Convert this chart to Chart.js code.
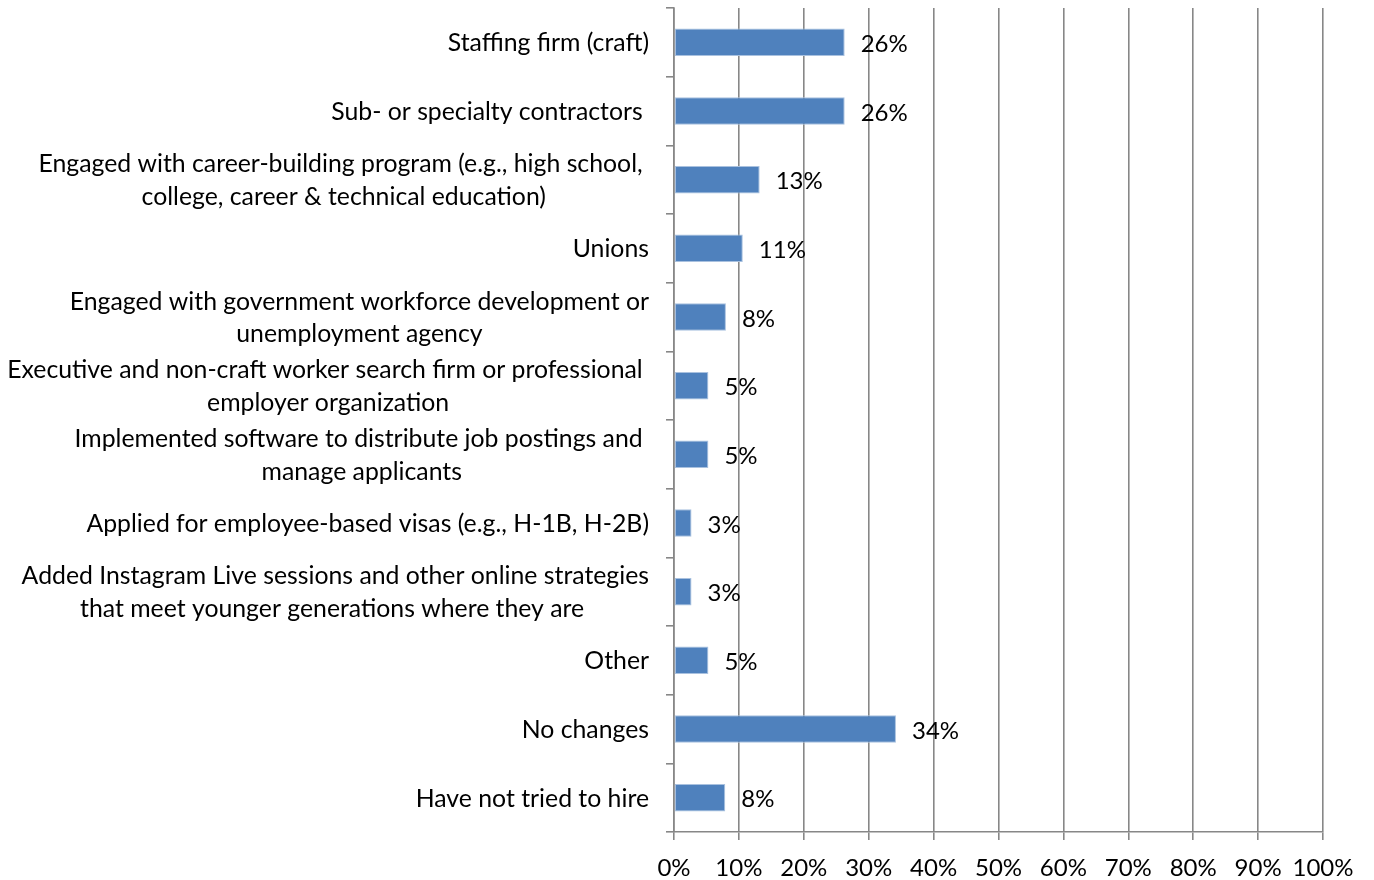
<!DOCTYPE html>
<html>
<head>
<meta charset="utf-8">
<script src="https://cdn.jsdelivr.net/npm/chart.js@4"></script>
<style>
html,body{margin:0;padding:0;background:#fff;}
#wrap{width:1374px;height:880px;position:relative;}
</style>
</head>
<body>
<div id="wrap"><canvas id="c" width="1374" height="880"></canvas></div>
<script>
const categories = [
  ["Staffing firm (craft)"],
  ["Sub- or specialty contractors "],
  ["Engaged with career-building program (e.g., high school, ", "college, career & technical education)"],
  ["Unions"],
  ["Engaged with government workforce development or", "unemployment agency"],
  ["Executive and non-craft worker search firm or professional ", "employer organization"],
  ["Implemented software to distribute job postings and ", "manage applicants"],
  ["Applied for employee-based visas (e.g., H-1B, H-2B)"],
  ["Added Instagram Live sessions and other online strategies", "that meet younger generations where they are "],
  ["Other"],
  ["No changes"],
  ["Have not tried to hire"]
];
const values = [26.3, 26.3, 13.2, 10.6, 8.0, 5.3, 5.3, 2.7, 2.7, 5.3, 34.2, 7.9];
const valueLabels = ["26%","26%","13%","11%","8%","5%","5%","3%","3%","5%","34%","8%"];
const xTicks = [0,10,20,30,40,50,60,70,80,90,100];

const FONT = "Lato";
const FS = 24.8;
const VFS = 24;
const GRID = "#878787";

const yLabelPlugin = {
  id: 'yLabels',
  afterDraw(chart) {
    const ctx = chart.ctx;
    const y = chart.scales.y;
    ctx.save();
    ctx.font = FS + "px " + FONT;
    ctx.fillStyle = "#000";
    ctx.textBaseline = "middle";
    ctx.textAlign = "center";
    const right = chart.chartArea.left - 25;
    const lh = 32.5;
    categories.forEach((lines, i) => {
      const cy = y.getPixelForTick(i) + 1;
      const w = Math.max(...lines.map(l => ctx.measureText(l).width));
      const cx = right - w / 2;
      const y0 = cy - (lines.length - 1) * lh / 2;
      lines.forEach((l, k) => ctx.fillText(l, cx, y0 + k * lh));
    });
    ctx.restore();
  }
};

const valueLabelPlugin = {
  id: 'valLabels',
  afterDatasetsDraw(chart) {
    const ctx = chart.ctx;
    const meta = chart.getDatasetMeta(0);
    ctx.save();
    ctx.font = VFS + "px " + FONT;
    ctx.fillStyle = "#000";
    ctx.textBaseline = "middle";
    ctx.textAlign = "left";
    meta.data.forEach((bar, i) => {
      ctx.fillText(valueLabels[i], bar.x + 16, bar.y + 2);
    });
    ctx.restore();
  }
};

new Chart(document.getElementById('c'), {
  type: 'bar',
  data: {
    labels: categories.map(c => c.join(' ')),
    datasets: [{
      data: values,
      backgroundColor: '#4F81BD',
      borderColor: '#A9C1DF',
      borderWidth: 1,
      borderSkipped: false,
      categoryPercentage: 1,
      barPercentage: 0.4
    }]
  },
  options: {
    indexAxis: 'y',
    responsive: false,
    animation: false,
    devicePixelRatio: 1,
    layout: { padding: { top: 8, right: 51, left: 0, bottom: 0 } },
    plugins: { legend: { display: false }, tooltip: { enabled: false } },
    scales: {
      x: {
        min: 0, max: 100,
        afterBuildTicks(scale) { scale.ticks = xTicks.map(v => ({ value: v })); },
        afterFit(scale) { scale.height = 48; },
        grid: { color: GRID, lineWidth: 1.6, tickLength: 8, drawTicks: true },
        border: { color: GRID, width: 1.6 },
        ticks: {
          callback: v => v + '%',
          font: { family: FONT, size: VFS },
          color: '#000',
          padding: 14,
          maxRotation: 0,
          autoSkip: false
        }
      },
      y: {
        afterFit(scale) { scale.width = 674; },
        grid: { drawOnChartArea: false, color: GRID, lineWidth: 1.6, tickLength: 8, offset: true },
        border: { color: GRID, width: 1.6 },
        ticks: { display: false }
      }
    }
  },
  plugins: [yLabelPlugin, valueLabelPlugin]
});
</script>
</body>
</html>
